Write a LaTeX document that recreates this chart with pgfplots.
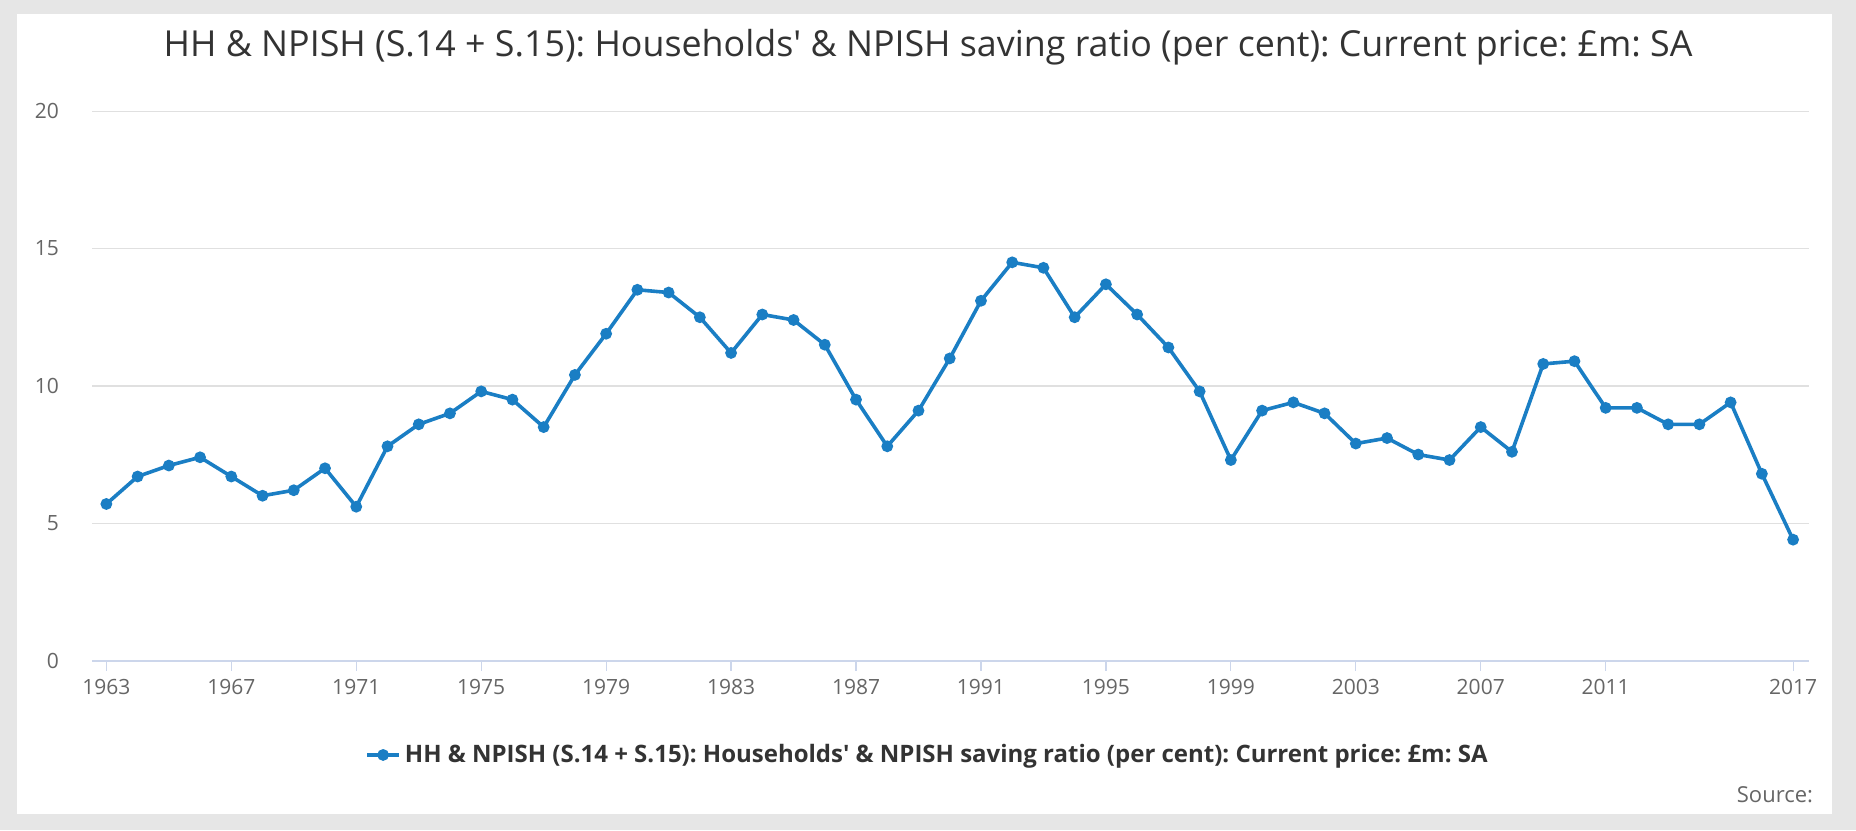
\documentclass[border=0pt]{standalone}
\usepackage{fontspec}
\setmainfont{Open Sans}
\usepackage{pgfplots}
\pgfplotsset{compat=1.18}
\frenchspacing

\definecolor{bgGrey}{HTML}{E6E6E6}
\definecolor{lineBlue}{HTML}{1A7EC4}
\definecolor{axisBlue}{HTML}{CCD6EB}
\definecolor{gridGrey}{HTML}{E0E0E0}
\definecolor{labGrey}{HTML}{666666}
\definecolor{titleGrey}{HTML}{333333}

\pgfplotstableread{
year ratio
1963 5.7
1964 6.7
1965 7.1
1966 7.4
1967 6.7
1968 6.0
1969 6.2
1970 7.0
1971 5.6
1972 7.8
1973 8.6
1974 9.0
1975 9.8
1976 9.5
1977 8.5
1978 10.4
1979 11.9
1980 13.5
1981 13.4
1982 12.5
1983 11.2
1984 12.6
1985 12.4
1986 11.5
1987 9.5
1988 7.8
1989 9.1
1990 11.0
1991 13.1
1992 14.5
1993 14.3
1994 12.5
1995 13.7
1996 12.6
1997 11.4
1998 9.8
1999 7.3
2000 9.1
2001 9.4
2002 9.0
2003 7.9
2004 8.1
2005 7.5
2006 7.3
2007 8.5
2008 7.6
2009 10.8
2010 10.9
2011 9.2
2012 9.2
2013 8.6
2014 8.6
2015 9.4
2016 6.8
2017 4.4
}\savingdata

\newcommand{\seriesname}{HH \& NPISH (S.14 + S.15): Households\textquotesingle{} \& NPISH saving ratio (per cent): Current price: £m: SA}

\begin{document}
\begin{tikzpicture}
% page background and white panel
\fill[bgGrey] (0pt,0pt) rectangle (928pt,415pt);
\fill[white] (8.3pt,8pt) rectangle (916pt,408pt);

\node[font=\fontsize{17.9}{21}\selectfont, text=titleGrey] at (464pt,391.5pt) {\seriesname};
\node[font=\fontsize{11}{13}\selectfont, text=labGrey, anchor=east] at (910pt,17.5pt) {Source:};

\begin{axis}[
    at={(46pt,84.75pt)}, anchor=south west,
    scale only axis,
    width=858.5pt, height=274.6pt,
    xmin=1962.54, xmax=2017.51,
    ymin=0, ymax=20,
    xtick={1963,1967,1971,1975,1979,1983,1987,1991,1995,1999,2003,2007,2011,2017},
    ytick={0,5,10,15,20},
    xticklabel style={/pgf/number format/1000 sep={}, font=\fontsize{10.5}{12}\selectfont, text=labGrey, yshift=-1pt},
    yticklabel style={font=\fontsize{10.5}{12}\selectfont, text=labGrey, xshift=-8pt},
    /pgf/number format/assume math mode=true,
    axis x line*=bottom,
    axis y line*=left,
    y axis line style={draw=none},
    x axis line style={draw=axisBlue, line width=1pt, -},
    xtick style={draw=axisBlue, line width=0.6pt},
    ytick style={draw=none},
    tick align=outside,
    major tick length=5pt,
    ymajorgrids,
    major grid style={draw=gridGrey, line width=0.6pt},
    legend style={at={(0.5,-0.172)}, anchor=center, xshift=-11pt, draw=none, fill=none,
        font=\bfseries\fontsize{12}{15}\selectfont, text=titleGrey},
    legend cell align=left,
    legend image code/.code={
        \draw[#1, mark repeat=2, mark phase=2] plot coordinates {(0pt,0pt) (8pt,0pt) (16pt,0pt)};
    },
]
\addplot[color=lineBlue, line width=1.8pt, mark=*, mark size=2pt,
    mark options={solid, fill=lineBlue, draw=lineBlue}]
    table[x=year, y=ratio] {\savingdata};
\addlegendentry{\seriesname}
\end{axis}
\end{tikzpicture}
\end{document}
